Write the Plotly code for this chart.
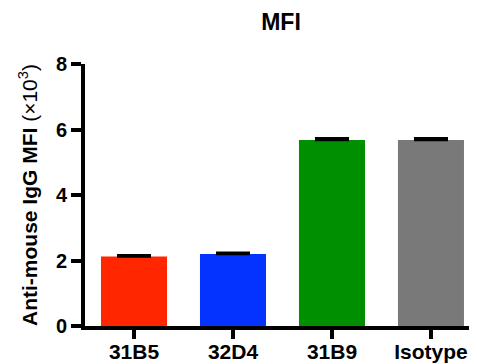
import plotly.graph_objects as go

categories = ["31B5", "32D4", "31B9", "Isotype"]
mfi_values = [2.12, 2.20, 5.68, 5.68]
mfi_errors = [0.04, 0.04, 0.05, 0.05]
bar_colors = ["#FF2600", "#0433FF", "#008F00", "#797979"]
y_ticks = [0, 2, 4, 6, 8]

FONT = "Arial, Liberation Sans, sans-serif"

fig = go.Figure(
    go.Bar(
        x=categories,
        y=mfi_values,
        marker=dict(color=bar_colors, line=dict(width=0)),
        width=0.667,
        error_y=dict(
            type="data",
            array=mfi_errors,
            arrayminus=[0, 0, 0, 0],
            symmetric=False,
            color="black",
            thickness=2.5,
            width=17,
        ),
    )
)

# page body has an 8px default margin, so the figure is sized to fit within it
fig.update_layout(
    width=469,
    height=356,
    margin=dict(l=77, r=0, t=56, b=38, autoexpand=False),
    plot_bgcolor="white",
    paper_bgcolor="white",
    showlegend=False,
    title=dict(
        text="<b>MFI</b>",
        x=0.5,
        xref="paper",
        xanchor="center",
        y=0.962,
        yref="container",
        yanchor="middle",
        font=dict(family=FONT, size=23, color="black"),
    ),
    font=dict(family=FONT, color="black"),
)

fig.update_xaxes(
    range=[-0.495, 3.465],
    automargin=False,
    showline=True,
    linecolor="black",
    linewidth=4,
    ticks="outside",
    ticklen=9,
    tickwidth=4,
    tickcolor="black",
    ticklabelstandoff=-5,
    tickfont=dict(family=FONT, size=21, color="black", weight="bold"),
    showgrid=False,
    zeroline=False,
)

fig.update_yaxes(
    range=[0, 8],
    tickvals=y_ticks,
    automargin=False,
    showline=True,
    linecolor="black",
    linewidth=4,
    ticks="outside",
    ticklen=10,
    tickwidth=4,
    tickcolor="black",
    tickfont=dict(family=FONT, size=20, color="black", weight="bold"),
    showgrid=False,
    zeroline=False,
    title=dict(
        text="<b>Anti-mouse IgG MFI</b> (×10<sup>3</sup>)",
        font=dict(family=FONT, size=21, color="black"),
        standoff=14,
    ),
)

fig.write_html("out.html")
